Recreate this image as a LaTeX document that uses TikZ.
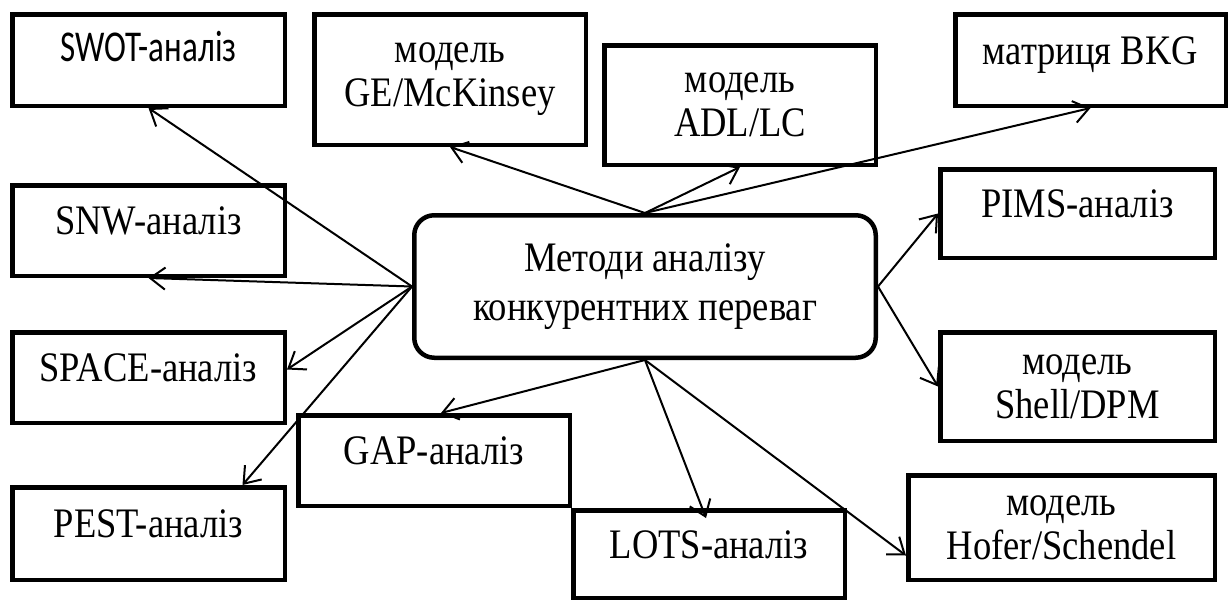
\documentclass[tikz,border=0pt]{standalone}
\usepackage{fontspec}
\setmainfont{Liberation Serif}[FakeStretch=0.87]
\newfontfamily\swotfont{Carlito}[FakeStretch=0.75]
\usepackage{tikz}
\usetikzlibrary{calc}
\usetikzlibrary{arrows.meta}

\begin{document}
\begin{tikzpicture}[x=1pt,y=-1pt,
  font=\fontsize{42}{44}\selectfont,
  >={Straight Barb[length=15pt,width=22pt]},
  box/.style={draw, line width=4.5pt, align=center, inner sep=0pt,
    minimum width=#1},
  onebox/.style={text height=30pt, text depth=22pt}]
\useasboundingbox (0,0) rectangle (1229,603);

\node[box=461.5pt, minimum height=142.5pt, rounded corners=20pt,
  font=\fontsize{42}{49}\selectfont] (c) at (645,286.5)
  {Методи аналізу\\конкурентних переваг};

\node[box=272.5pt, minimum height=91.5pt, text height=30pt, text depth=28pt, font=\fontsize{44}{44}\swotfont] (swot) at (148.5,60) {SWOT-аналіз};
\node[box=272.5pt, minimum height=90.5pt, onebox] (snw) at (148.5,230.5) {SNW-аналіз};
\node[box=272.5pt, minimum height=90.5pt, onebox] (space) at (148.5,377.5) {SPACE-аналіз};
\node[box=272.5pt, minimum height=92.5pt, onebox] (pest) at (148.5,533.5) {PEST-аналіз};
\node[box=271.5pt, minimum height=130.5pt] (ge) at (450,79.5) {модель\\GE/McKinsey};
\node[box=271.5pt, minimum height=119.5pt] (adl) at (740,105) {модель\\ADL/LC};
\node[box=270.5pt, minimum height=91.5pt, onebox] (bkg) at (1090.5,60) {матриця BKG};
\node[box=274.5pt, minimum height=88.5pt, onebox] (pims) at (1077.5,213.5) {PIMS-аналіз};
\node[box=274.5pt, minimum height=108.5pt] (shell) at (1077.5,386.5) {модель\\Shell/DPM};
\node[box=306.5pt, minimum height=104.5pt] (hofer) at (1061.5,527.5) {модель\\Hofer/Schendel};
\node[box=271.5pt, minimum height=90.5pt, onebox] (gap) at (434,460.5) {GAP-аналіз};
\node[box=271.5pt, minimum height=87.5pt, onebox] (lots) at (709,554) {LOTS-аналіз};

\path[->, draw, line width=2pt] (c.west) -- (swot.south);
\path[->, draw, line width=2pt] (c.west) -- (snw.south);
\path[->, draw, line width=2pt] (c.west) -- ($(space.east)+(0,-8)$);
\path[->, draw, line width=2pt] (c.west) -- ($(pest.north)+(94,0)$);
\path[->, draw, line width=2pt] (c.north) -- (ge.south);
\path[->, draw, line width=2pt] (c.north) -- (adl.south);
\path[->, draw, line width=2pt] (c.north) -- (bkg.south);
\path[->, draw, line width=2pt] (c.east) -- (pims.west);
\path[->, draw, line width=2pt] (c.east) -- (shell.west);
\path[->, draw, line width=2pt] (c.south) -- ($(gap.north)+(7,0)$);
\path[->, draw, line width=2pt] (c.south) -- ($(lots.north)+(-3,10)$);
\path[->, draw, line width=2pt] (c.south) -- ($(hofer.west)+(0,28)$);
\end{tikzpicture}
\end{document}
